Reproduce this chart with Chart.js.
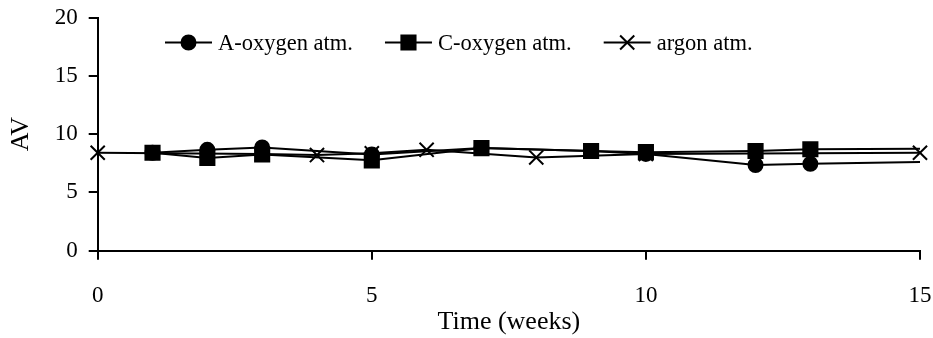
<!DOCTYPE html>
<html>
<head>
<meta charset="utf-8">
<script src="https://cdn.jsdelivr.net/npm/chart.js@4/dist/chart.umd.min.js"></script>
<style>
  html, body { margin: 0; padding: 0; background: #fff; }
  #wrap { width: 933px; height: 338px; }
</style>
</head>
<body>
<div id="wrap"><canvas id="av-chart" width="933" height="338"></canvas></div>
<script>
// Series values (week, AV)
const seriesNames = ['A-oxygen atm.', 'C-oxygen atm.', 'argon atm.'];

const weeksA = [1, 2, 3, 5, 7, 9, 10, 12, 13, 15];
const valuesA = [8.4, 8.65, 8.85, 8.25, 8.8, 8.55, 8.3, 7.35, 7.45, 7.6];

const weeksC = [1, 2, 3, 5, 7, 9, 10, 12, 13, 15];
const valuesC = [8.4, 7.95, 8.25, 7.75, 8.8, 8.55, 8.45, 8.55, 8.7, 8.75];

const weeksArgon = [0, 3, 4, 5, 6, 8, 10, 15];
const valuesArgon = [8.4, 8.3, 8.2, 8.35, 8.65, 8.0, 8.3, 8.4];

const xTicks = [0, 5, 10, 15];
const yTicks = [0, 5, 10, 15, 20];

const serif = "'Liberation Serif', 'DejaVu Serif', serif";

function toPoints(xs, ys) {
    return xs.map((x, i) => ({ x: x, y: ys[i] }));
}

// last A / C points have no marker in the reference
function radii(xs, r) {
    return xs.map((x, i) => (i === xs.length - 1 ? 0 : r));
}

const styles = [
    { pointStyle: 'circle', radius: 7 },
    { pointStyle: 'rect', radius: 10 },
    { pointStyle: 'crossRot', radius: 10 }
];

// Legend drawn inside the plot, line-marker-line like the original
const insideLegend = {
    id: 'insideLegend',
    afterDatasetsDraw(chart) {
        const ctx = chart.ctx;
        const y = 42.5;
        let x = 165;
        ctx.save();
        ctx.font = '22.5px ' + serif;
        ctx.textBaseline = 'middle';
        chart.data.datasets.forEach((ds, i) => {
            ctx.strokeStyle = '#000';
            ctx.fillStyle = '#000';
            ctx.lineWidth = 2;
            ctx.beginPath();
            ctx.moveTo(x, y);
            ctx.lineTo(x + 47, y);
            ctx.stroke();
            Chart.helpers.drawPoint(ctx, {
                pointStyle: styles[i].pointStyle,
                radius: styles[i].radius,
                rotation: 0,
                borderWidth: 2
            }, x + 23.5, y);
            ctx.fillText(ds.label, x + 53, y + 1.5);
            x += 53 + ctx.measureText(ds.label).width + 32;
        });
        ctx.restore();
    }
};

function makeDataset(label, xs, ys, idx, hideLast) {
    return {
        label: label,
        data: toPoints(xs, ys),
        showLine: true,
        borderColor: '#000',
        backgroundColor: '#000',
        borderWidth: 2,
        pointStyle: styles[idx].pointStyle,
        pointRadius: hideLast ? radii(xs, styles[idx].radius) : styles[idx].radius,
        pointBorderWidth: 2,
        pointHoverRadius: styles[idx].radius,
        tension: 0,
        clip: false
    };
}

// keep the plot box fixed: no extra room for overflowing tick labels
function noPad(s) {
    s.paddingLeft = 0;
    s.paddingRight = 0;
    s.paddingTop = 0;
    s.paddingBottom = 0;
}

new Chart(document.getElementById('av-chart'), {
    type: 'scatter',
    data: {
        datasets: [
            makeDataset(seriesNames[0], weeksA, valuesA, 0, true),
            makeDataset(seriesNames[1], weeksC, valuesC, 1, true),
            makeDataset(seriesNames[2], weeksArgon, valuesArgon, 2, false)
        ]
    },
    options: {
        responsive: false,
        animation: false,
        layout: { padding: { top: 17.5, right: 13, left: 0, bottom: 0 } },
        plugins: {
            legend: { display: false },
            tooltip: { enabled: false }
        },
        scales: {
            x: {
                type: 'linear',
                min: 0,
                max: 15,
                afterBuildTicks: s => { s.ticks = xTicks.map(v => ({ value: v })); },
                afterFit: s => { s.height = 87.3; noPad(s); },
                grid: { drawOnChartArea: false, tickLength: 9, color: '#000', lineWidth: 2 },
                border: { color: '#000', width: 2 },
                ticks: { color: '#000', padding: 22, font: { family: serif, size: 23 }, maxRotation: 0 },
                title: {
                    display: true,
                    text: 'Time (weeks)',
                    color: '#000',
                    font: { family: serif, size: 26 },
                    padding: { top: 0, bottom: 0 }
                }
            },
            y: {
                min: 0,
                max: 20,
                afterBuildTicks: s => { s.ticks = yTicks.map(v => ({ value: v })); },
                afterFit: s => { s.width = 97.7; noPad(s); },
                grid: { drawOnChartArea: false, tickLength: 9, color: '#000', lineWidth: 2 },
                border: { color: '#000', width: 2 },
                ticks: { color: '#000', padding: 11, font: { family: serif, size: 23 } },
                title: {
                    display: true,
                    text: 'AV',
                    color: '#000',
                    font: { family: serif, size: 26 },
                    padding: { top: 6, bottom: 0 }
                }
            }
        }
    },
    plugins: [insideLegend]
});
</script>
</body>
</html>
